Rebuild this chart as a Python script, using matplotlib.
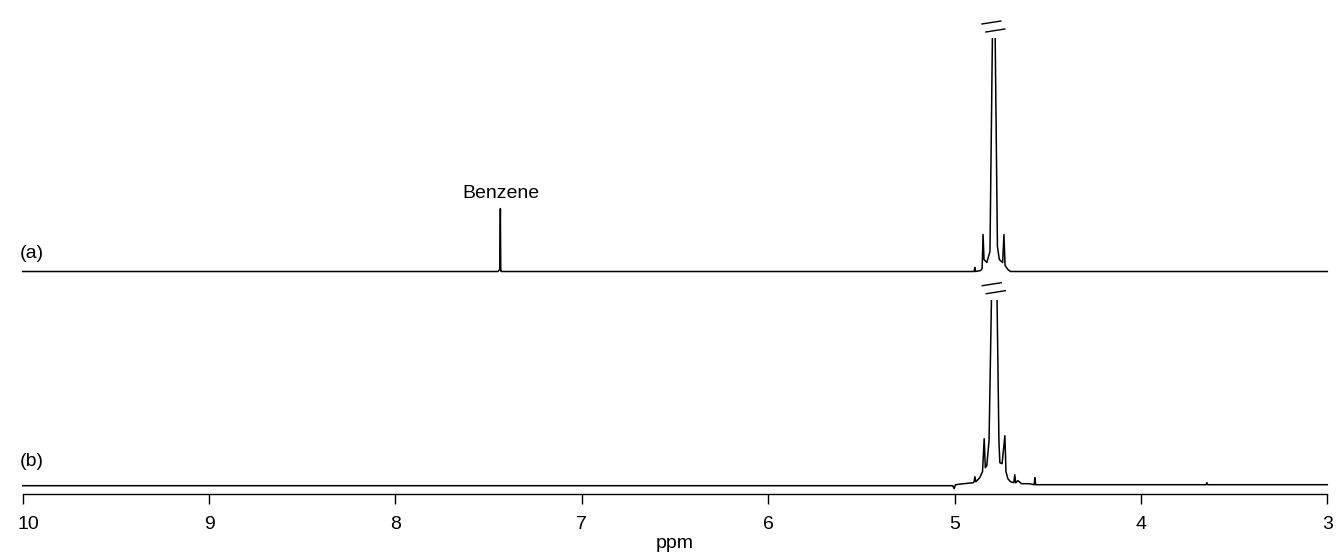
import matplotlib.pyplot as plt
from matplotlib.patches import Rectangle
from matplotlib.transforms import ScaledTranslation

# spectrum (a): vertices (ppm, intensity above baseline)
ppm_a = [10.0, 7.45, 7.44, 7.437, 7.435, 7.433, 7.43,
         4.91, 4.895, 4.891, 4.887, 4.86, 4.852, 4.847, 4.842, 4.827, 4.81,
         4.797, 4.789, 4.782, 4.77, 4.76, 4.742, 4.735, 4.729, 4.714, 4.70, 3.0]
int_a = [0, 0, 2, 63, 2, 0, 0,
         0, 0, 4, 0, 1, 3, 37, 12, 9, 20,
         233, 1500, 233, 25, 12, 9, 37, 6, 2, 0, 0]

# spectrum (b)
ppm_b = [10.0, 5.01, 5.002, 4.995, 4.95, 4.90, 4.895, 4.891, 4.886, 4.875,
         4.865, 4.850, 4.841, 4.835, 4.827, 4.815, 4.802, 4.787, 4.772, 4.762,
         4.757, 4.745, 4.730, 4.724, 4.714, 4.70, 4.682, 4.677, 4.672, 4.66,
         4.64, 4.60, 4.573, 4.569, 4.565, 4.50, 3.65, 3.646, 3.642, 3.0]
int_b = [0, 0, -3, 1, 2, 3, 4, 9, 4, 6,
         8, 14, 47, 18, 20, 45, 186, 1500, 186, 45,
         23, 22, 50, 14, 7, 4, 3, 11, 3, 5,
         2, 2, 1, 8, 1, 1, 1, 3, 1, 1]

labels = ['(a)', '(b)']
water_ppm = [4.789, 4.787]
benzene_ppm = 7.435
benzene_height = 63
xticks = [10, 9, 8, 7, 6, 5, 4, 3]

FONT = 'Liberation Sans'
FS = 14


def plotSpectrum(ax, ppm, inten, offset, cap, peak, label, label_dy):
    y = [v + offset for v in inten]
    line, = ax.plot(ppm, y, color='black', lw=1.1)
    clip = Rectangle((2, -50), 9, offset + cap + 50, transform=ax.transData)
    line.set_clip_path(clip)

    # break marks above the cut peak (offsets in px, 1 ppm = 186.4 px)
    px = 186.4
    top = offset + cap
    for (x0, x1, y0, y1) in [(-12, 7, 14, 17), (-8, 11, 6, 9)]:
        ax.plot([peak - x0 / px, peak - x1 / px], [top + y0, top + y1],
                color='black', lw=1.0, clip_on=False)

    ax.text(10.018, offset + label_dy, label, fontsize=FS, family=FONT,
            ha='left', va='center')


fig = plt.figure(figsize=(13.36, 5.52), dpi=100)
ax = fig.add_axes([22.7 / 1336, 58 / 552, 1304.6 / 1336, 494 / 552])
ax.set_xlim(10, 3)
ax.set_ylim(0, 494)

plotSpectrum(ax, ppm_a, int_a, 222.5, 233.5, water_ppm[0], labels[0], 18)
plotSpectrum(ax, ppm_b, int_b, 8.3, 186, water_ppm[1], labels[1], 24)

ax.text(benzene_ppm, 222.5 + benzene_height + 10, 'Benzene', fontsize=FS,
        family=FONT, ha='center', va='baseline')

for s in ['top', 'left', 'right']:
    ax.spines[s].set_visible(False)
ax.spines['bottom'].set_linewidth(1.0)
ax.set_yticks([])
ax.set_xticks(xticks)
ax.set_xticklabels([str(t) for t in xticks], fontsize=FS, family=FONT)
ax.tick_params(axis='x', direction='out', length=7.5, width=1.0, pad=8)
first = ax.get_xticklabels()[0]
first.set_transform(first.get_transform() + ScaledTranslation(6 / 100, 0, fig.dpi_scale_trans))
ax.set_xlabel('ppm', fontsize=FS, family=FONT, labelpad=2)

fig.savefig('out.png', dpi=100)
